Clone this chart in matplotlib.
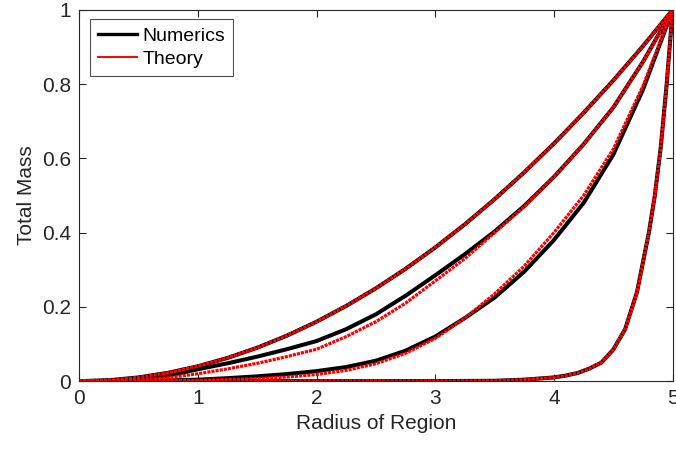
import numpy as np
import matplotlib.pyplot as plt
from matplotlib.lines import Line2D

plt.rcParams['font.family'] = ['Liberation Sans', 'DejaVu Sans']

# ----------------------------
# Data: cumulative mass inside radius r
# ----------------------------
r = [0, 0.25, 0.5, 0.75, 1, 1.25, 1.5, 1.75, 2, 2.25, 2.5,
     2.75, 3, 3.25, 3.5, 3.75, 4, 4.25, 4.5, 4.75, 5]

num_1 = [0, 0.0025, 0.01, 0.0225, 0.04, 0.0625, 0.09, 0.1225, 0.16, 0.2025, 0.25,
         0.3025, 0.36, 0.4225, 0.49, 0.5625, 0.64, 0.7225, 0.81, 0.9025, 1]
thy_1 = [0, 0.0025, 0.01, 0.0225, 0.04, 0.0625, 0.09, 0.1225, 0.16, 0.2025, 0.25,
         0.3025, 0.36, 0.4225, 0.49, 0.5625, 0.64, 0.7225, 0.81, 0.9025, 1]

num_2 = [0, 0.001, 0.005, 0.015, 0.032, 0.048, 0.066, 0.086, 0.108, 0.14, 0.18,
         0.23, 0.285, 0.342, 0.403, 0.472, 0.55, 0.638, 0.737, 0.86, 1]
thy_2 = [0, 0.0005, 0.003, 0.009, 0.02, 0.033, 0.048, 0.066, 0.086, 0.12, 0.16,
         0.21, 0.27, 0.33, 0.40, 0.47, 0.55, 0.638, 0.737, 0.86, 1]

num_3 = [0, 0, 0.0005, 0.002, 0.004, 0.008, 0.013, 0.019, 0.027, 0.038, 0.055,
         0.082, 0.12, 0.17, 0.225, 0.295, 0.38, 0.48, 0.61, 0.785, 1]
thy_3 = [0, 0, 0.0002, 0.001, 0.002, 0.004, 0.007, 0.011, 0.018, 0.029, 0.047,
         0.075, 0.115, 0.17, 0.235, 0.31, 0.40, 0.50, 0.625, 0.795, 1]

# steep profile needs a finer radius grid near the edge
r_4 = [0, 1, 2, 3, 3.5, 3.75, 4, 4.1, 4.2, 4.3, 4.4, 4.5,
       4.6, 4.7, 4.75, 4.8, 4.85, 4.9, 4.95, 5]
num_4 = [0, 0, 0, 0.0001, 0.001, 0.004, 0.01, 0.015, 0.022, 0.034, 0.05, 0.085,
         0.14, 0.24, 0.32, 0.40, 0.50, 0.63, 0.80, 1]
thy_4 = [0, 0, 0, 0.0001, 0.001, 0.004, 0.01, 0.015, 0.022, 0.034, 0.05, 0.085,
         0.14, 0.24, 0.32, 0.40, 0.50, 0.63, 0.80, 1]

numerics = [(r, num_1), (r, num_2), (r, num_3), (r_4, num_4)]
theory = [(r, thy_1), (r, thy_2), (r, thy_3), (r_4, thy_4)]

# ----------------------------
# Plot
# ----------------------------
fig = plt.figure(figsize=(6.76, 4.5), dpi=100)
ax = fig.add_axes([0.117, 0.153, 0.878, 0.825])

for xs, ys in numerics:
    ax.plot(xs, ys, color='black', lw=2.9, solid_joinstyle='round')

for xs, ys in theory:
    ax.plot(xs, ys, color='red', lw=2.3, linestyle=(0, (1.0, 0.3)))

ax.set_xlim(0, 5)
ax.set_ylim(0, 1)
ax.set_xticks([0, 1, 2, 3, 4, 5])
ax.set_yticks([0, 0.2, 0.4, 0.6, 0.8, 1])
ax.set_yticklabels(['0', '0.2', '0.4', '0.6', '0.8', '1'])

axis_grey = '#262626'
for side in ax.spines.values():
    side.set_color(axis_grey)
    side.set_linewidth(0.8)
ax.tick_params(direction='in', top=True, right=True, length=5,
               width=0.8, color=axis_grey, labelcolor=axis_grey,
               labelsize=15, pad=6)

ax.set_xlabel('Radius of Region', fontsize=15, color=axis_grey, labelpad=4)
ax.set_ylabel('Total Mass', fontsize=15, color=axis_grey, labelpad=4)

handles = [Line2D([], [], color='black', lw=2.4),
           Line2D([], [], color='red', lw=1.4)]
leg = ax.legend(handles, ['Numerics', 'Theory'], loc='upper left',
                bbox_to_anchor=(0.012, 0.985), fontsize=14, frameon=True,
                fancybox=False, handlelength=2.0, handletextpad=0.3,
                borderpad=0.4, labelspacing=0.3, borderaxespad=0.2)
leg.get_frame().set_edgecolor(axis_grey)
leg.get_frame().set_linewidth(0.8)

fig.savefig('out.png', dpi=100)
